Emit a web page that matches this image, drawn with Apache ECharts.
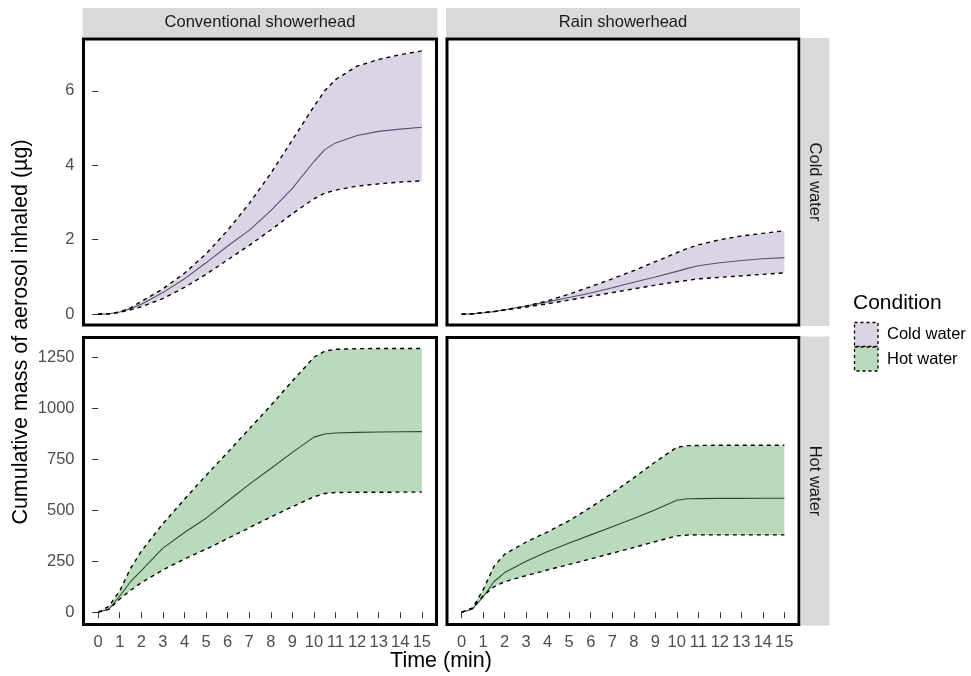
<!DOCTYPE html>
<html><head><meta charset="utf-8">
<script src="https://cdn.jsdelivr.net/npm/echarts@6/dist/echarts.min.js"></script>
<style>html,body{margin:0;padding:0;background:#fff}#c{width:971px;height:676px}</style>
</head><body><div id="c"></div><script>
// ---- data ----
const times = [0, 0.5, 1, 1.5, 2, 3, 4, 5, 6, 7, 8, 9, 10, 10.5, 11, 12, 13, 14, 15];

const convColdLower  = [0, 0.01, 0.05, 0.12, 0.20, 0.42, 0.72, 1.07, 1.46, 1.85, 2.26, 2.70, 3.10, 3.25, 3.33, 3.44, 3.50, 3.55, 3.58];
const convColdMedian = [0, 0.01, 0.06, 0.15, 0.27, 0.58, 0.95, 1.38, 1.83, 2.25, 2.78, 3.38, 4.10, 4.42, 4.60, 4.80, 4.91, 4.97, 5.02];
const convColdUpper  = [0, 0.01, 0.06, 0.17, 0.34, 0.68, 1.10, 1.62, 2.25, 2.97, 3.78, 4.68, 5.58, 6.00, 6.30, 6.66, 6.84, 6.97, 7.07];

const rainColdLower  = [0, 0.01, 0.04, 0.07, 0.11, 0.19, 0.28, 0.38, 0.48, 0.58, 0.68, 0.78, 0.87, 0.91, 0.95, 0.99, 1.03, 1.07, 1.11];
const rainColdMedian = [0, 0.01, 0.04, 0.07, 0.12, 0.22, 0.33, 0.45, 0.57, 0.71, 0.86, 1.00, 1.15, 1.23, 1.30, 1.38, 1.44, 1.49, 1.52];
const rainColdUpper  = [0, 0.01, 0.04, 0.07, 0.12, 0.22, 0.36, 0.54, 0.74, 0.95, 1.17, 1.41, 1.65, 1.77, 1.86, 2.00, 2.10, 2.17, 2.24];

const convHotLower  = [0, 15, 65, 108, 145, 208, 262, 310, 362, 415, 468, 518, 567, 583, 588, 589, 589, 590, 590];
const convHotMedian = [0, 15, 80, 150, 205, 315, 392, 462, 545, 628, 706, 785, 860, 875, 880, 883, 885, 886, 887];
const convHotUpper  = [0, 30, 105, 215, 300, 435, 555, 672, 785, 900, 1015, 1135, 1252, 1282, 1291, 1294, 1295, 1295, 1295];

const rainHotLower  = [0, 20, 80, 125, 150, 180, 208, 235, 262, 290, 318, 347, 375, 379, 380, 380, 380, 380, 380];
const rainHotMedian = [0, 15, 75, 150, 195, 250, 298, 340, 380, 420, 460, 503, 550, 557, 558, 559, 559, 560, 560];
const rainHotUpper  = [0, 20, 110, 225, 285, 345, 395, 450, 515, 585, 660, 738, 810, 818, 819, 820, 820, 820, 820];

const xTicks    = [0, 1, 2, 3, 4, 5, 6, 7, 8, 9, 10, 11, 12, 13, 14, 15];
const coldTicks = [0, 2, 4, 6];
const hotTicks  = [0, 250, 500, 750, 1000, 1250];

const colTitles = ['Conventional showerhead', 'Rain showerhead'];
const rowTitles = ['Cold water', 'Hot water'];
const legendTitle = 'Condition';

// ---- layout / style ----
const FONT = 'Liberation Sans, Arial, sans-serif';
const cols = [{ left: 83.5, width: 353 }, { left: 447, width: 352 }];
const rows = [{ top: 39, height: 286, min: -0.29, max: 7.39, ticks: coldTicks },
              { top: 337.5, height: 287, min: -60, max: 1349, ticks: hotTicks }];
const fills = ['#DCD4E6', '#BADBBB'];
const medCols = ['#5A5068', '#2E4B30'];

const panels = [
  { r: 0, c: 0, lo: convColdLower, md: convColdMedian, up: convColdUpper },
  { r: 0, c: 1, lo: rainColdLower, md: rainColdMedian, up: rainColdUpper },
  { r: 1, c: 0, lo: convHotLower, md: convHotMedian, up: convHotUpper },
  { r: 1, c: 1, lo: rainHotLower, md: rainHotMedian, up: rainHotUpper }
];

const grid = [], xAxis = [], yAxis = [], series = [];
const pairs = arr => times.map((t, i) => [t, arr[i]]);
const plain = v => String(v);

panels.forEach((p, i) => {
  const R = rows[p.r], C = cols[p.c];
  grid.push({ left: C.left, width: C.width, top: R.top, height: R.height, show: true,
    borderColor: '#000', borderWidth: 3, backgroundColor: '#fff', containLabel: false });
  xAxis.push({ type: 'value', gridIndex: i, min: -0.68, max: 15.68,
    axisLine: { show: false }, splitLine: { show: false },
    axisTick: { show: p.r === 1, length: 6, lineStyle: { color: '#333', width: 1 }, customValues: xTicks },
    axisLabel: { show: p.r === 1, customValues: xTicks, formatter: plain, color: '#4D4D4D', fontSize: 16.5, fontFamily: FONT, margin: 9 } });
  yAxis.push({ type: 'value', gridIndex: i, min: R.min, max: R.max,
    axisLine: { show: false }, splitLine: { show: false },
    axisTick: { show: p.c === 0, length: 6, lineStyle: { color: '#333', width: 1 }, customValues: R.ticks },
    axisLabel: { show: p.c === 0, customValues: R.ticks, formatter: plain, color: '#4D4D4D', fontSize: 16.5, fontFamily: FONT, margin: 9 } });
  // ribbon between lower and upper, placed through the axes' scales
  series.push({ type: 'custom', xAxisIndex: i, yAxisIndex: i, data: [[0, 0]], silent: true, z: 1,
    renderItem: (params, api) => {
      const top = times.map((t, k) => api.coord([t, p.up[k]]));
      const bot = times.map((t, k) => api.coord([t, p.lo[k]])).reverse();
      return { type: 'polygon', shape: { points: top.concat(bot) }, style: { fill: fills[p.r] } };
    } });
  [p.lo, p.up].forEach(arr => series.push({ type: 'line', xAxisIndex: i, yAxisIndex: i, data: pairs(arr),
    symbol: 'none', lineStyle: { color: '#000', width: 1.4, type: [4, 4] }, silent: true, z: 3 }));
  series.push({ type: 'line', xAxisIndex: i, yAxisIndex: i, data: pairs(p.md),
    symbol: 'none', lineStyle: { color: medCols[p.r], width: 1.1 }, silent: true, z: 2 });
});

const graphic = [];
cols.forEach((C, k) => {
  graphic.push({ type: 'rect', shape: { x: C.left - 1, y: 8, width: C.width + 2, height: 29 }, style: { fill: '#D9D9D9' }, silent: true });
  graphic.push({ type: 'text', x: C.left + C.width / 2, y: 22.5, style: { text: colTitles[k], fill: '#1A1A1A',
    font: '16.5px ' + FONT, align: 'center', verticalAlign: 'middle' }, silent: true });
});
rows.forEach((R, k) => {
  graphic.push({ type: 'rect', shape: { x: 800.5, y: R.top - 1, width: 29, height: R.height + 2 }, style: { fill: '#D9D9D9' }, silent: true });
  graphic.push({ type: 'text', x: 815, y: R.top + R.height / 2, rotation: -Math.PI / 2,
    style: { text: rowTitles[k], fill: '#1A1A1A', font: '16.5px ' + FONT, align: 'center', verticalAlign: 'middle' }, silent: true });
});
graphic.push({ type: 'text', x: 21.5, y: 332, rotation: Math.PI / 2,
  style: { text: 'Cumulative mass of aerosol inhaled (µg)', fill: '#000', font: '21.5px ' + FONT, align: 'center', verticalAlign: 'middle' }, silent: true });
graphic.push({ type: 'text', x: 441, y: 661.5,
  style: { text: 'Time (min)', fill: '#000', font: '21.5px ' + FONT, align: 'center', verticalAlign: 'middle' }, silent: true });
graphic.push({ type: 'text', x: 853, y: 303, style: { text: legendTitle, fill: '#000', font: '21px ' + FONT, align: 'left', verticalAlign: 'middle' }, silent: true });
rowTitles.forEach((name, k) => {
  graphic.push({ type: 'rect', shape: { x: 854.5, y: 322.5 + 24.5 * k, width: 23.5, height: 24 },
    style: { fill: fills[k], stroke: '#000', lineWidth: 1.3, lineDash: [3, 3] }, silent: true });
  graphic.push({ type: 'text', x: 887, y: 334.5 + 24.5 * k,
    style: { text: name, fill: '#000', font: '16.5px ' + FONT, align: 'left', verticalAlign: 'middle' }, silent: true });
});

const chart = echarts.init(document.getElementById('c'), null, { renderer: 'canvas' });
chart.setOption({ animation: false, backgroundColor: '#fff', grid, xAxis, yAxis, series, graphic });
</script></body></html>
